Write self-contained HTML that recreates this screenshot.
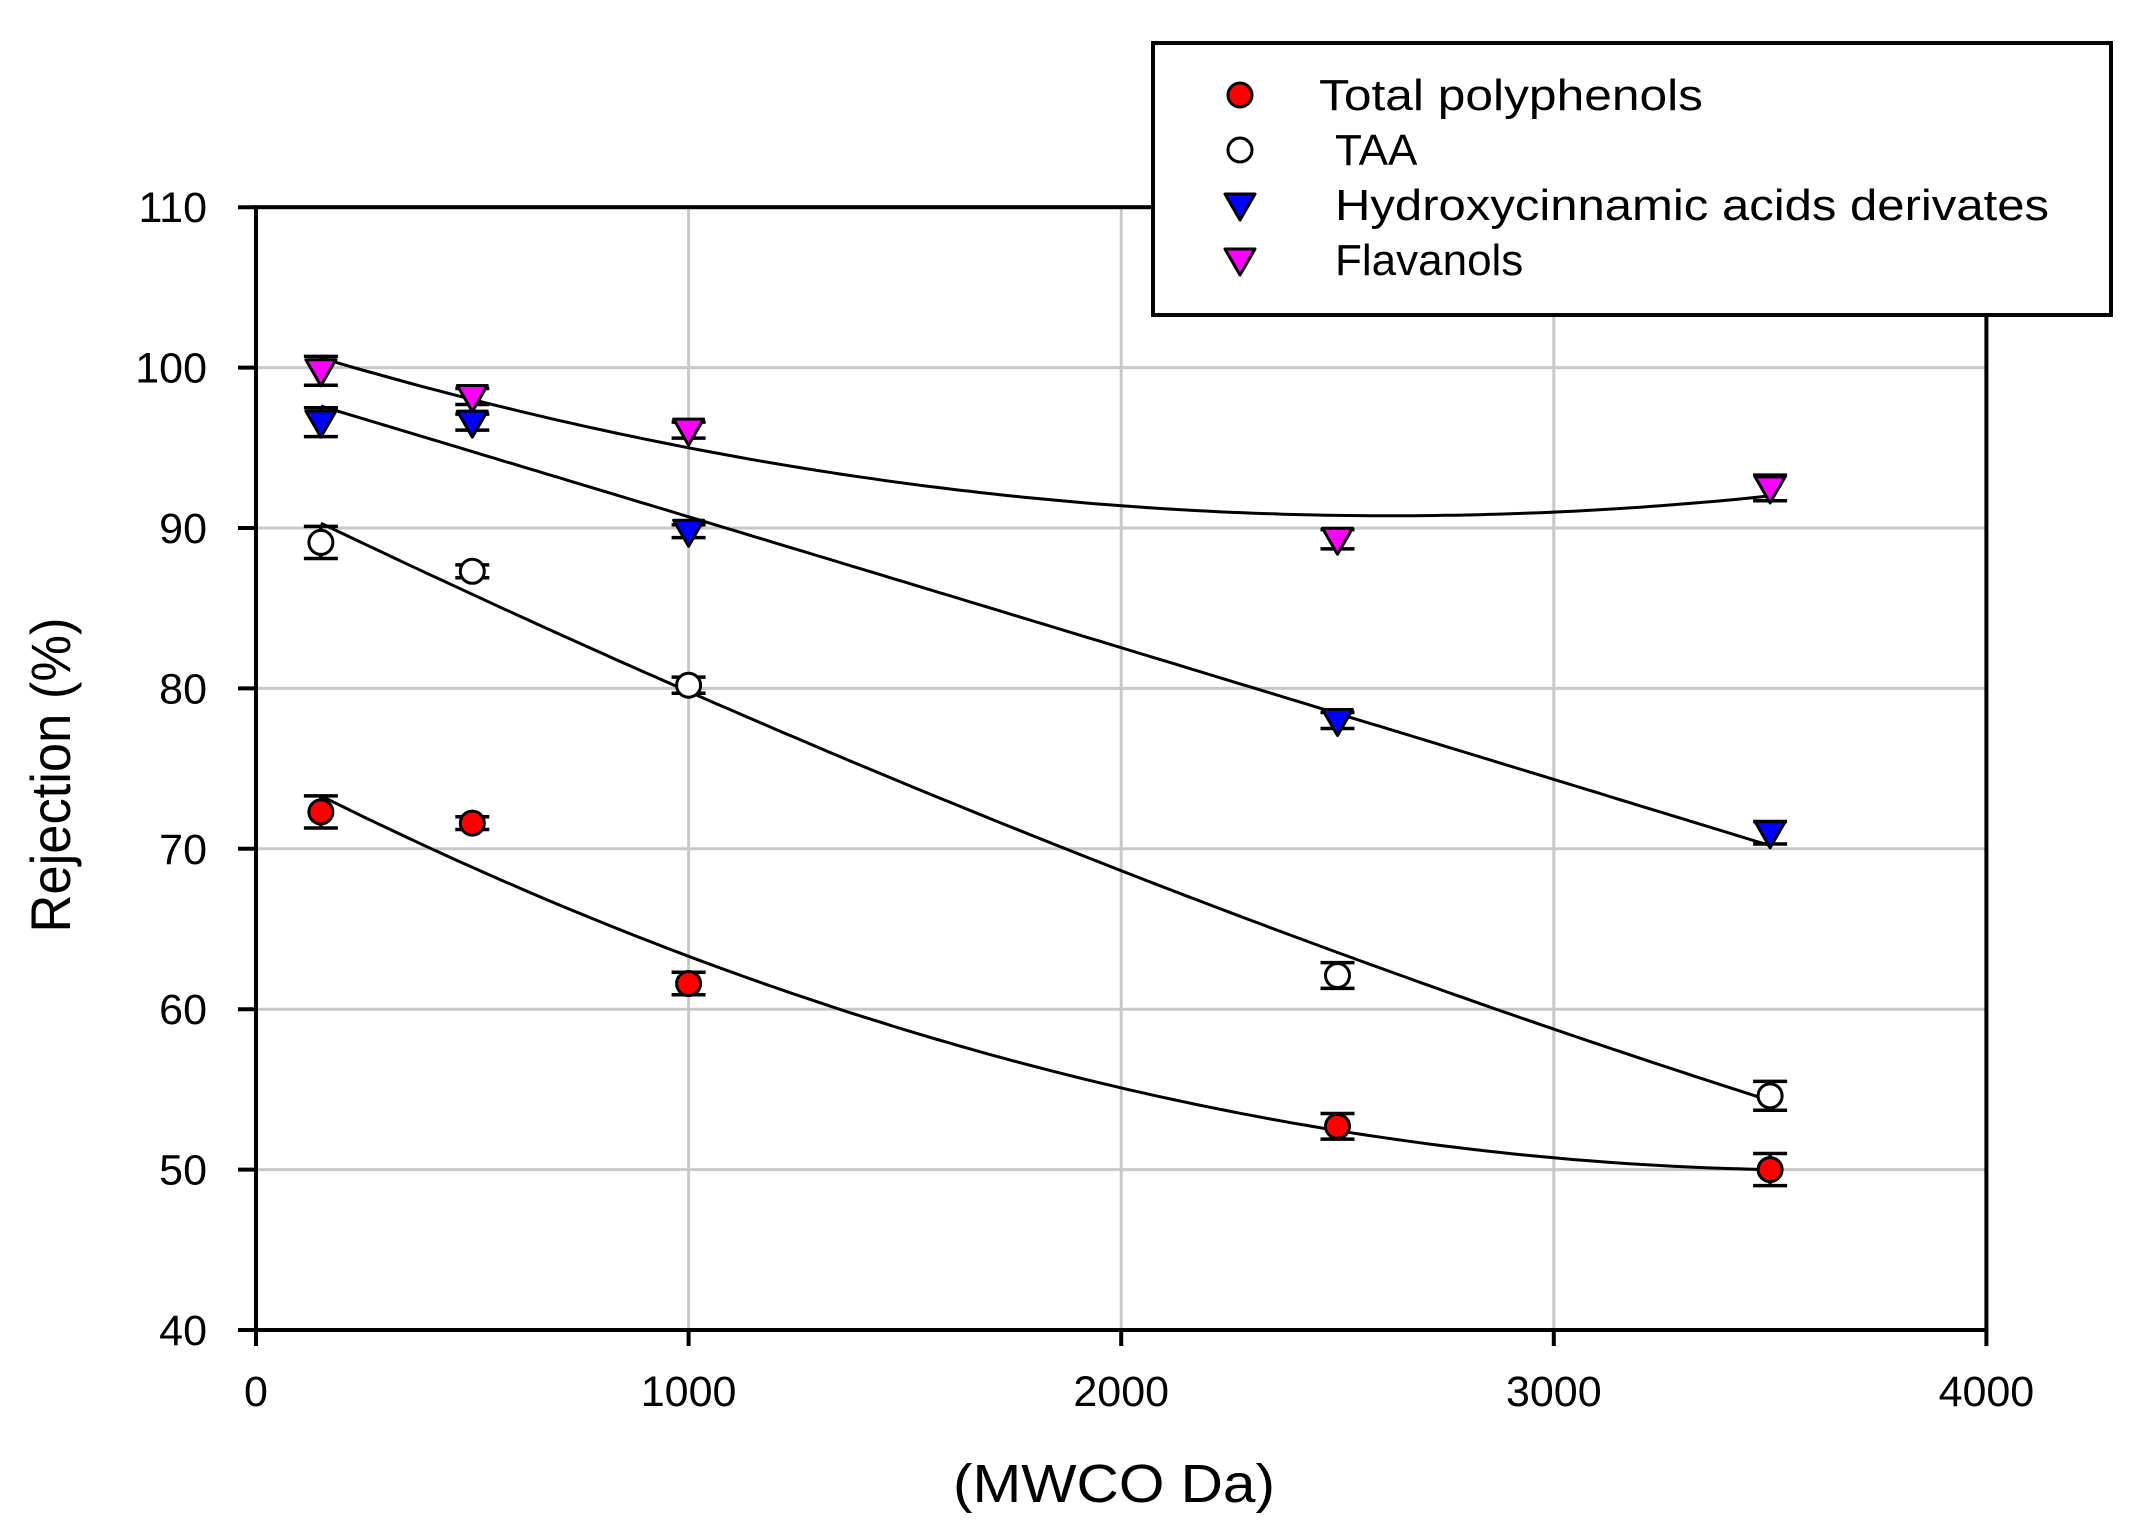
<!DOCTYPE html>
<html><head><meta charset="utf-8"><style>html,body{margin:0;padding:0;background:#fff}svg{display:block}</style></head>
<body>
<svg id="s" width="2140" height="1540" xmlns="http://www.w3.org/2000/svg" font-family="Liberation Sans, Arial, sans-serif">
<rect width="2140" height="1540" fill="#fff"/>
<g id="grid" stroke="#c8c8c8" stroke-width="3"></g>
<g id="curves" fill="none" stroke="#000" stroke-width="3"></g>
<g id="pts"></g>
<g id="axes" stroke="#000" stroke-width="4" fill="none"></g>
<g id="labels" font-size="43" fill="#000"></g>
<text x="70" y="775" font-size="56" text-anchor="middle" transform="rotate(-90 70 775)" textLength="315" lengthAdjust="spacingAndGlyphs">Rejection (%)</text>
<text x="1114" y="1502" font-size="54" text-anchor="middle" textLength="322" lengthAdjust="spacingAndGlyphs">(MWCO Da)</text>
<g id="legend"></g>
</svg>
<script>
const NS="http://www.w3.org/2000/svg";
function el(p,t,a,txt){const e=document.createElementNS(NS,t);for(const k in a)e.setAttribute(k,a[k]);if(txt!==undefined)e.textContent=txt;document.getElementById(p).appendChild(e);return e;}
const X=v=>256+v*0.4326, Y=v=>1330-(v-40)*16.04;
for(const v of [1000,2000,3000]) el('grid','line',{x1:X(v),x2:X(v),y1:Y(110),y2:Y(40)});
for(const v of [50,60,70,80,90,100]) el('grid','line',{x1:X(0),x2:X(4000),y1:Y(v),y2:Y(v)});
el('axes','rect',{x:X(0),y:Y(110),width:X(4000)-X(0),height:Y(40)-Y(110)});
for(let v=40;v<=110;v+=10){el('axes','line',{x1:X(0)-18,x2:X(0),y1:Y(v),y2:Y(v)});
 el('labels','text',{x:207,y:Y(v)+15,'text-anchor':'end'},String(v));}
for(let v=0;v<=4000;v+=1000){el('axes','line',{x1:X(v),x2:X(v),y1:Y(40),y2:Y(40)+16});
 el('labels','text',{x:X(v),y:1406,'text-anchor':'middle'},String(v));}
function lag(p,x){let s=0;for(let i=0;i<3;i++){let t=p[i][1];for(let j=0;j<3;j++)if(j!=i)t*=(x-p[j][0])/(p[i][0]-p[j][0]);s+=t;}return s;}
const fits=[[[150,73.3],[1000,63.3],[3500,50.0]],[[150,90.3],[1000,79.8],[3500,54.3]],[[150,97.6],[1000,90.7],[3500,70.2]],[[150,100.6],[1000,95.0],[3500,92.0]]];
for(const f of fits){let d='';for(let x=150;x<=3500;x+=25){d+=(x==150?'M':'L')+X(x).toFixed(1)+' '+Y(lag(f,x)).toFixed(1);}el('curves','path',{d});}
const xs=[150,500,1000,2500,3500];
const data=[
 {c:'#ff0000',m:'c',y:[72.3,71.6,61.6,52.7,50.0],e:[1,0.4,0.7,0.8,1]},
 {c:'#ffffff',m:'c',y:[89.1,87.3,80.2,62.1,54.6],e:[1,0.4,0.5,0.8,0.9]},
 {c:'#0000ff',m:'t',y:[96.6,96.6,89.8,78.0,71.0],e:[0.9,0.5,0.4,0.5,0.7]},
 {c:'#ff00ff',m:'t',y:[99.8,98.2,96.1,89.3,92.5],e:[0.9,0.5,0.5,0.6,0.8]}];
function marker(g,m,cx,cy,c){
 if(m=='c') el(g,'circle',{cx,cy,r:12,fill:c,stroke:'#000','stroke-width':3});
 else el(g,'path',{d:`M${cx-15} ${cy-11}L${cx+15} ${cy-11}L${cx} ${cy+15}Z`,fill:c,stroke:'#000','stroke-width':3,'stroke-linejoin':'round'});
}
for(const s of data){xs.forEach((x,i)=>{const cx=X(x),cy=Y(s.y[i]),t=Y(s.y[i]+s.e[i]),b=Y(s.y[i]-s.e[i]);
 el('pts','path',{d:`M${cx} ${t}L${cx} ${b}M${cx-17} ${t}L${cx+17} ${t}M${cx-17} ${b}L${cx+17} ${b}`,stroke:'#000','stroke-width':3.5,fill:'none'});
 marker('pts',s.m,cx,cy,s.c);});}
el('legend','rect',{x:1153,y:43,width:958,height:272,fill:'#fff',stroke:'#000','stroke-width':4});
const L=[['Total polyphenols',1319,'c','#ff0000',384],['TAA',1335,'c','#ffffff',0],['Hydroxycinnamic acids derivates',1335,'t','#0000ff',714],['Flavanols',1335,'t','#ff00ff',0]];
L.forEach((l,i)=>{const cy=95+i*55;marker('legend',l[2],1240,cy,l[3]);
 const a={x:l[1],y:cy+15,'font-size':44,fill:'#000'};if(l[4]){a.textLength=l[4];a.lengthAdjust='spacingAndGlyphs';}
 el('legend','text',a,l[0]);});
</script>
</body></html>
